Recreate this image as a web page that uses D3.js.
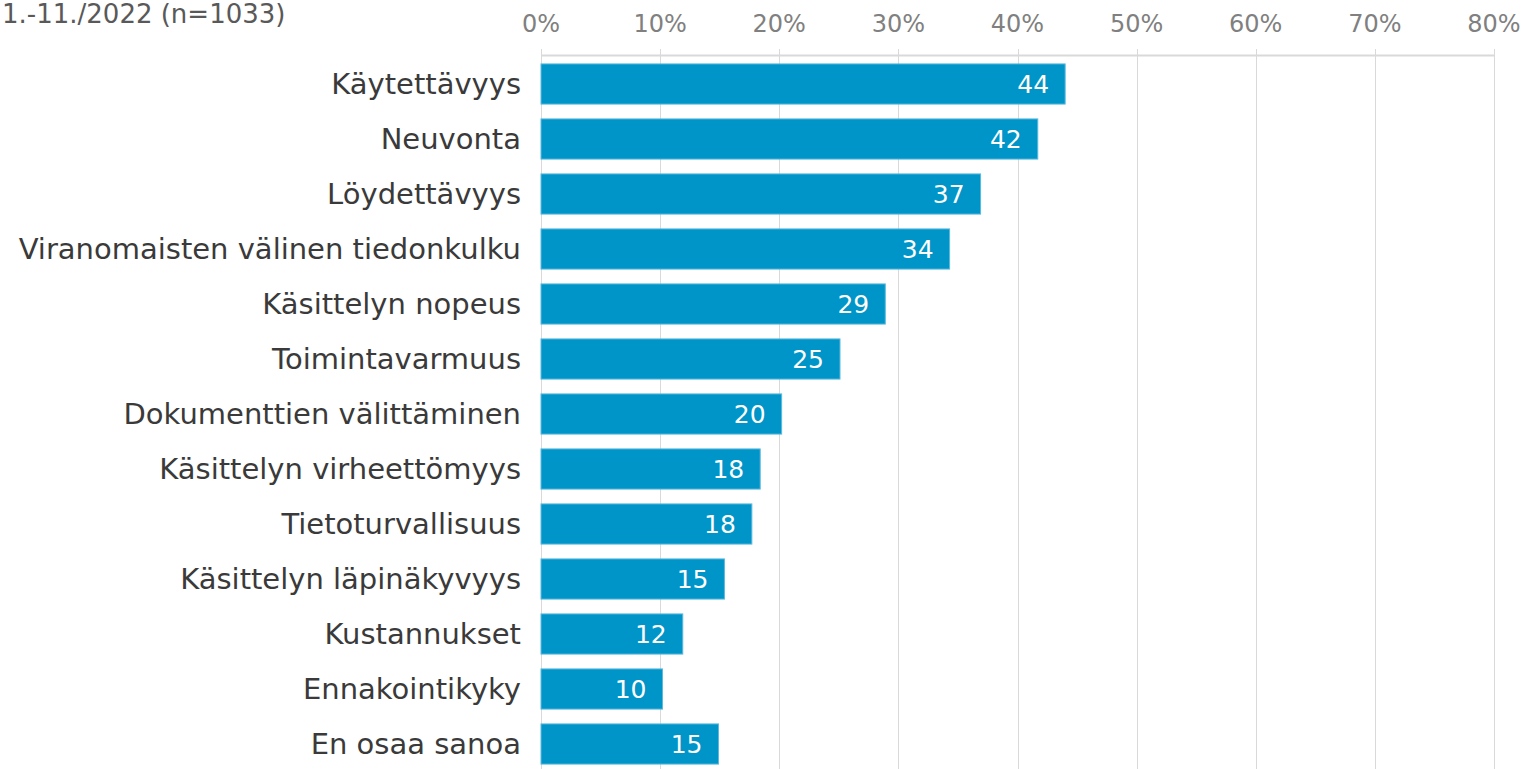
<!DOCTYPE html>
<html>
<head>
<meta charset="utf-8">
<script src="https://cdn.jsdelivr.net/npm/d3@7"></script>
<style>
  body { margin: 0; background: #fff; }
  svg { display: block; font-family: "DejaVu Sans", Verdana, sans-serif; }
</style>
</head>
<body>
<svg id="svg" width="1529" height="769"></svg>
<script>
const categories = [
	'Käytettävyys',
	'Neuvonta',
	'Löydettävyys',
	'Viranomaisten välinen tiedonkulku',
	'Käsittelyn nopeus',
	'Toimintavarmuus',
	'Dokumenttien välittäminen',
	'Käsittelyn virheettömyys',
	'Tietoturvallisuus',
	'Käsittelyn läpinäkyvyys',
	'Kustannukset',
	'Ennakointikyky',
	'En osaa sanoa',
];
const values = [44.0, 41.7, 36.9, 34.3, 28.9, 25.1, 20.2, 18.4, 17.7, 15.4, 11.9, 10.2, 14.9];
const ticks = [0, 10, 20, 30, 40, 50, 60, 70, 80];
const subtitle = '1.-11./2022 (n=1033)';

const svg = d3.select('svg');
const width = 1529;
const height = 769;

const x = d3.scaleLinear().domain([0, 80]).range([541, 1494]);
const y = d3.scaleBand().domain(categories).range([56.5, 771.5]).paddingInner(0.27).paddingOuter(0.135);

// gridlines
svg.append('g')
	.selectAll('line')
	.data(ticks)
	.enter()
	.append('line')
	.attr('x1', (d) => Math.round(x(d)) + 0.5)
	.attr('x2', (d) => Math.round(x(d)) + 0.5)
	.attr('y1', 49)
	.attr('y2', height)
	.attr('stroke', '#d9d9d9')
	.attr('stroke-width', 1);

// axis line
svg.append('line')
	.attr('x1', x(0))
	.attr('x2', x(80))
	.attr('y1', 55.5)
	.attr('y2', 55.5)
	.attr('stroke', '#d9d9d9')
	.attr('stroke-width', 2);

// tick labels
svg.append('g')
	.selectAll('text')
	.data(ticks)
	.enter()
	.append('text')
	.attr('x', (d) => x(d))
	.attr('y', 32)
	.attr('text-anchor', 'middle')
	.attr('font-size', 24)
	.attr('fill', '#808080')
	.text((d) => d + '%');

// bars
svg.append('g')
	.selectAll('rect')
	.data(values)
	.enter()
	.append('rect')
	.attr('x', x(0))
	.attr('y', (d, i) => y(categories[i]))
	.attr('width', (d) => x(d) - x(0))
	.attr('height', y.bandwidth())
	.attr('fill', '#0095c8')
	.attr('stroke', '#5ab9de')
	.attr('stroke-width', 1);

// value labels
svg.append('g')
	.selectAll('text')
	.data(values)
	.enter()
	.append('text')
	.attr('x', (d) => x(d) - 16)
	.attr('y', (d, i) => y(categories[i]) + y.bandwidth() / 2 + 9)
	.attr('text-anchor', 'end')
	.attr('font-size', 25)
	.attr('fill', '#ffffff')
	.text((d) => d3.format('.0f')(d));

// category labels
svg.append('g')
	.selectAll('text')
	.data(categories)
	.enter()
	.append('text')
	.attr('x', 521)
	.attr('y', (d) => y(d) + y.bandwidth() / 2 + 10)
	.attr('text-anchor', 'end')
	.attr('font-size', 29)
	.attr('fill', '#3a3a3a')
	.text((d) => d);

// subtitle
svg.append('text')
	.attr('x', 2)
	.attr('y', 23)
	.attr('font-size', 26)
	.attr('fill', '#595959')
	.text(subtitle);
</script>
</body>
</html>
